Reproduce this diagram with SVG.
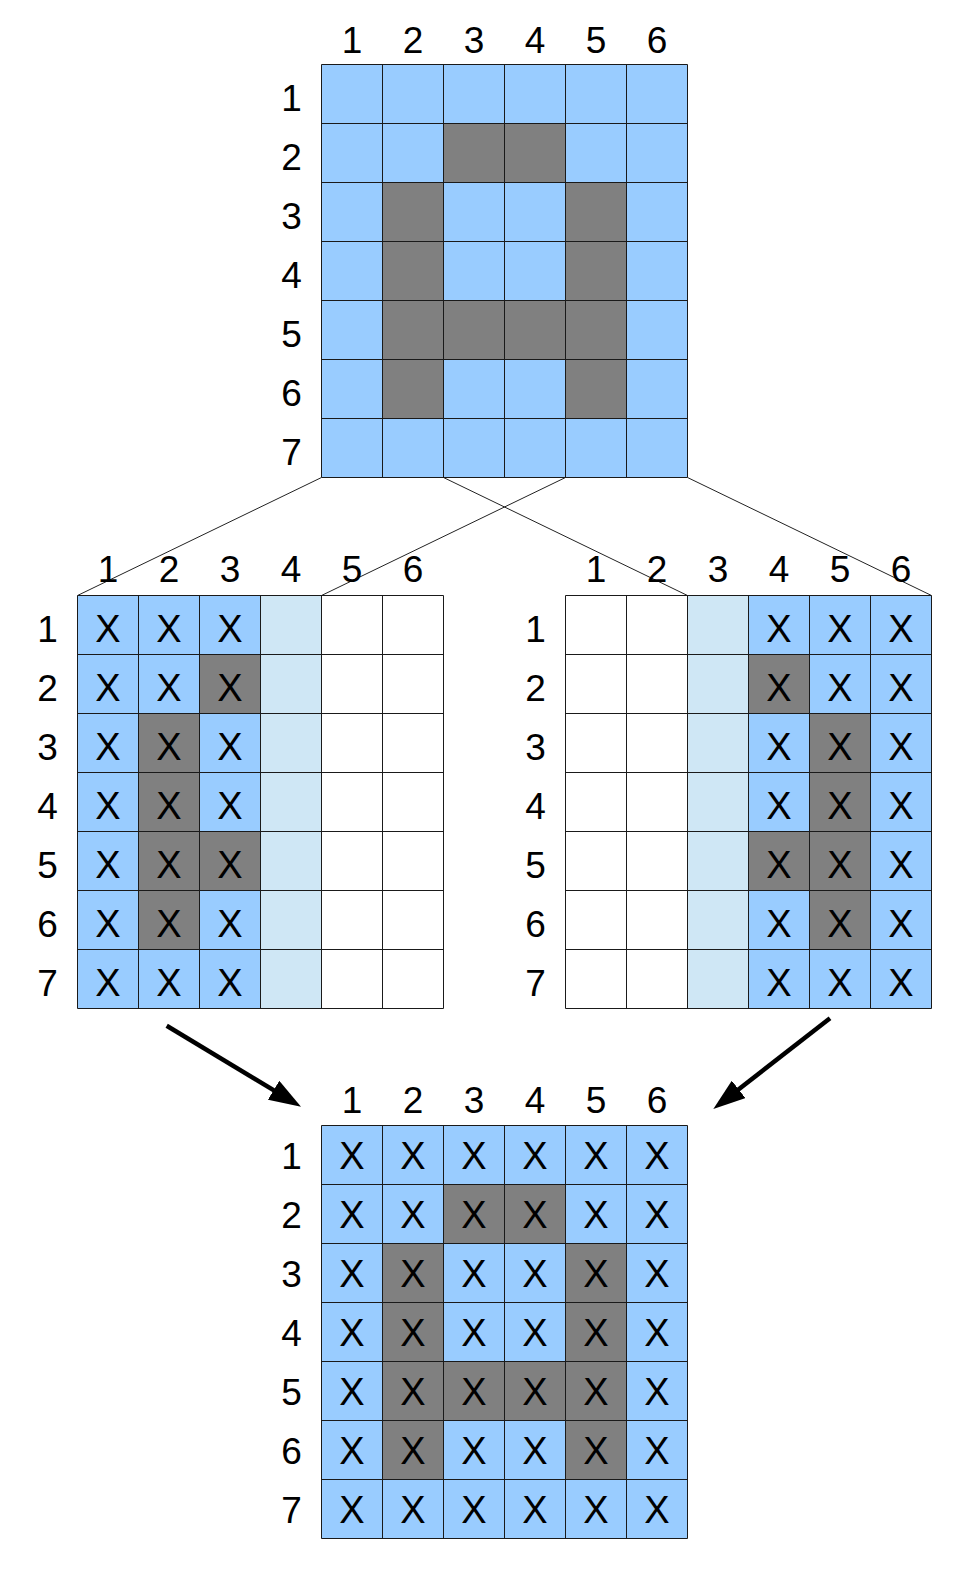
<svg xmlns="http://www.w3.org/2000/svg" width="969" height="1569" viewBox="0 0 969 1569">
<style>
text{font-family:"Liberation Sans",Arial,sans-serif;fill:#000;text-anchor:middle}
.lbl{font-size:37px}
.x{font-size:38px}
.b{fill:#99ccff}
.g{fill:#808080}
.l{fill:#cfe7f5}
.w{fill:#ffffff}
.grid{fill:none;stroke:#1a1a1a;stroke-width:1}
.conn{fill:none;stroke:#222;stroke-width:1}
.arr{fill:none;stroke:#000;stroke-width:4.5;marker-end:url(#head)}
</style>
<defs>
<marker id="head" markerUnits="userSpaceOnUse" viewBox="0 0 32 22" markerWidth="32" markerHeight="22" refX="12" refY="11" orient="auto">
<path d="M0,0 L32,11 L0,22 z" fill="#000"/>
</marker>
</defs>
<rect width="969" height="1569" fill="#ffffff"/>

<g id="connectors">
<line class="conn" x1="321.5" y1="477.5" x2="77.5" y2="595.5"/>
<line class="conn" x1="565.5" y1="477.5" x2="321.5" y2="595.5"/>
<line class="conn" x1="443.5" y1="477.5" x2="687.5" y2="595.5"/>
<line class="conn" x1="687.5" y1="477.5" x2="931.5" y2="595.5"/>
<line class="arr" x1="166.7" y1="1025.7" x2="283.9" y2="1096.4"/>
<line class="arr" x1="830" y1="1018.3" x2="729.1" y2="1096.7"/>
</g>

<g id="top-grid">
<rect class="b" x="321.5" y="64.5" width="366" height="413"/>
<rect class="g" x="443.5" y="123.5" width="122" height="59"/>
<rect class="g" x="382.5" y="182.5" width="61" height="236"/>
<rect class="g" x="565.5" y="182.5" width="61" height="236"/>
<rect class="g" x="443.5" y="300.5" width="122" height="59"/>
<path class="grid" d="M321.5,64.5V477.5M382.5,64.5V477.5M443.5,64.5V477.5M504.5,64.5V477.5M565.5,64.5V477.5M626.5,64.5V477.5M687.5,64.5V477.5M321.5,64.5H687.5M321.5,123.5H687.5M321.5,182.5H687.5M321.5,241.5H687.5M321.5,300.5H687.5M321.5,359.5H687.5M321.5,418.5H687.5M321.5,477.5H687.5"/>
<text class="lbl" x="352" y="53">1</text>
<text class="lbl" x="413" y="53">2</text>
<text class="lbl" x="474" y="53">3</text>
<text class="lbl" x="535" y="53">4</text>
<text class="lbl" x="596" y="53">5</text>
<text class="lbl" x="657" y="53">6</text>
<text class="lbl" x="291.5" y="110.5">1</text>
<text class="lbl" x="291.5" y="169.5">2</text>
<text class="lbl" x="291.5" y="228.5">3</text>
<text class="lbl" x="291.5" y="287.5">4</text>
<text class="lbl" x="291.5" y="346.5">5</text>
<text class="lbl" x="291.5" y="405.5">6</text>
<text class="lbl" x="291.5" y="464.5">7</text>
</g>

<g id="left-grid">
<rect class="w" x="77.5" y="595.5" width="366" height="413"/>
<rect class="b" x="77.5" y="595.5" width="183" height="413"/>
<rect class="l" x="260.5" y="595.5" width="61" height="413"/>
<rect class="g" x="199.5" y="654.5" width="61" height="59"/>
<rect class="g" x="138.5" y="713.5" width="61" height="236"/>
<rect class="g" x="199.5" y="831.5" width="61" height="59"/>
<path class="grid" d="M77.5,595.5V1008.5M138.5,595.5V1008.5M199.5,595.5V1008.5M260.5,595.5V1008.5M321.5,595.5V1008.5M382.5,595.5V1008.5M443.5,595.5V1008.5M77.5,595.5H443.5M77.5,654.5H443.5M77.5,713.5H443.5M77.5,772.5H443.5M77.5,831.5H443.5M77.5,890.5H443.5M77.5,949.5H443.5M77.5,1008.5H443.5"/>
<text class="lbl" x="108" y="582">1</text>
<text class="lbl" x="169" y="582">2</text>
<text class="lbl" x="230" y="582">3</text>
<text class="lbl" x="291" y="582">4</text>
<text class="lbl" x="352" y="582">5</text>
<text class="lbl" x="413" y="582">6</text>
<text class="lbl" x="47.5" y="641.5">1</text>
<text class="lbl" x="47.5" y="700.5">2</text>
<text class="lbl" x="47.5" y="759.5">3</text>
<text class="lbl" x="47.5" y="818.5">4</text>
<text class="lbl" x="47.5" y="877.5">5</text>
<text class="lbl" x="47.5" y="936.5">6</text>
<text class="lbl" x="47.5" y="995.5">7</text>
<text class="x" x="108" y="641.5">X</text><text class="x" x="169" y="641.5">X</text><text class="x" x="230" y="641.5">X</text>
<text class="x" x="108" y="700.5">X</text><text class="x" x="169" y="700.5">X</text><text class="x" x="230" y="700.5">X</text>
<text class="x" x="108" y="759.5">X</text><text class="x" x="169" y="759.5">X</text><text class="x" x="230" y="759.5">X</text>
<text class="x" x="108" y="818.5">X</text><text class="x" x="169" y="818.5">X</text><text class="x" x="230" y="818.5">X</text>
<text class="x" x="108" y="877.5">X</text><text class="x" x="169" y="877.5">X</text><text class="x" x="230" y="877.5">X</text>
<text class="x" x="108" y="936.5">X</text><text class="x" x="169" y="936.5">X</text><text class="x" x="230" y="936.5">X</text>
<text class="x" x="108" y="995.5">X</text><text class="x" x="169" y="995.5">X</text><text class="x" x="230" y="995.5">X</text>
</g>

<g id="right-grid">
<rect class="w" x="565.5" y="595.5" width="366" height="413"/>
<rect class="l" x="687.5" y="595.5" width="61" height="413"/>
<rect class="b" x="748.5" y="595.5" width="183" height="413"/>
<rect class="g" x="748.5" y="654.5" width="61" height="59"/>
<rect class="g" x="809.5" y="713.5" width="61" height="236"/>
<rect class="g" x="748.5" y="831.5" width="61" height="59"/>
<path class="grid" d="M565.5,595.5V1008.5M626.5,595.5V1008.5M687.5,595.5V1008.5M748.5,595.5V1008.5M809.5,595.5V1008.5M870.5,595.5V1008.5M931.5,595.5V1008.5M565.5,595.5H931.5M565.5,654.5H931.5M565.5,713.5H931.5M565.5,772.5H931.5M565.5,831.5H931.5M565.5,890.5H931.5M565.5,949.5H931.5M565.5,1008.5H931.5"/>
<text class="lbl" x="596" y="582">1</text>
<text class="lbl" x="657" y="582">2</text>
<text class="lbl" x="718" y="582">3</text>
<text class="lbl" x="779" y="582">4</text>
<text class="lbl" x="840" y="582">5</text>
<text class="lbl" x="901" y="582">6</text>
<text class="lbl" x="535.5" y="641.5">1</text>
<text class="lbl" x="535.5" y="700.5">2</text>
<text class="lbl" x="535.5" y="759.5">3</text>
<text class="lbl" x="535.5" y="818.5">4</text>
<text class="lbl" x="535.5" y="877.5">5</text>
<text class="lbl" x="535.5" y="936.5">6</text>
<text class="lbl" x="535.5" y="995.5">7</text>
<text class="x" x="779" y="641.5">X</text><text class="x" x="840" y="641.5">X</text><text class="x" x="901" y="641.5">X</text>
<text class="x" x="779" y="700.5">X</text><text class="x" x="840" y="700.5">X</text><text class="x" x="901" y="700.5">X</text>
<text class="x" x="779" y="759.5">X</text><text class="x" x="840" y="759.5">X</text><text class="x" x="901" y="759.5">X</text>
<text class="x" x="779" y="818.5">X</text><text class="x" x="840" y="818.5">X</text><text class="x" x="901" y="818.5">X</text>
<text class="x" x="779" y="877.5">X</text><text class="x" x="840" y="877.5">X</text><text class="x" x="901" y="877.5">X</text>
<text class="x" x="779" y="936.5">X</text><text class="x" x="840" y="936.5">X</text><text class="x" x="901" y="936.5">X</text>
<text class="x" x="779" y="995.5">X</text><text class="x" x="840" y="995.5">X</text><text class="x" x="901" y="995.5">X</text>
</g>

<g id="bottom-grid">
<rect class="b" x="321.5" y="1125.5" width="366" height="413"/>
<rect class="g" x="443.5" y="1184.5" width="122" height="59"/>
<rect class="g" x="382.5" y="1243.5" width="61" height="236"/>
<rect class="g" x="565.5" y="1243.5" width="61" height="236"/>
<rect class="g" x="443.5" y="1361.5" width="122" height="59"/>
<path class="grid" d="M321.5,1125.5V1538.5M382.5,1125.5V1538.5M443.5,1125.5V1538.5M504.5,1125.5V1538.5M565.5,1125.5V1538.5M626.5,1125.5V1538.5M687.5,1125.5V1538.5M321.5,1125.5H687.5M321.5,1184.5H687.5M321.5,1243.5H687.5M321.5,1302.5H687.5M321.5,1361.5H687.5M321.5,1420.5H687.5M321.5,1479.5H687.5M321.5,1538.5H687.5"/>
<text class="lbl" x="352" y="1113">1</text>
<text class="lbl" x="413" y="1113">2</text>
<text class="lbl" x="474" y="1113">3</text>
<text class="lbl" x="535" y="1113">4</text>
<text class="lbl" x="596" y="1113">5</text>
<text class="lbl" x="657" y="1113">6</text>
<text class="lbl" x="291.5" y="1169">1</text>
<text class="lbl" x="291.5" y="1228">2</text>
<text class="lbl" x="291.5" y="1287">3</text>
<text class="lbl" x="291.5" y="1346">4</text>
<text class="lbl" x="291.5" y="1405">5</text>
<text class="lbl" x="291.5" y="1464">6</text>
<text class="lbl" x="291.5" y="1523">7</text>
<text class="x" x="352" y="1169">X</text><text class="x" x="413" y="1169">X</text><text class="x" x="474" y="1169">X</text><text class="x" x="535" y="1169">X</text><text class="x" x="596" y="1169">X</text><text class="x" x="657" y="1169">X</text>
<text class="x" x="352" y="1228">X</text><text class="x" x="413" y="1228">X</text><text class="x" x="474" y="1228">X</text><text class="x" x="535" y="1228">X</text><text class="x" x="596" y="1228">X</text><text class="x" x="657" y="1228">X</text>
<text class="x" x="352" y="1287">X</text><text class="x" x="413" y="1287">X</text><text class="x" x="474" y="1287">X</text><text class="x" x="535" y="1287">X</text><text class="x" x="596" y="1287">X</text><text class="x" x="657" y="1287">X</text>
<text class="x" x="352" y="1346">X</text><text class="x" x="413" y="1346">X</text><text class="x" x="474" y="1346">X</text><text class="x" x="535" y="1346">X</text><text class="x" x="596" y="1346">X</text><text class="x" x="657" y="1346">X</text>
<text class="x" x="352" y="1405">X</text><text class="x" x="413" y="1405">X</text><text class="x" x="474" y="1405">X</text><text class="x" x="535" y="1405">X</text><text class="x" x="596" y="1405">X</text><text class="x" x="657" y="1405">X</text>
<text class="x" x="352" y="1464">X</text><text class="x" x="413" y="1464">X</text><text class="x" x="474" y="1464">X</text><text class="x" x="535" y="1464">X</text><text class="x" x="596" y="1464">X</text><text class="x" x="657" y="1464">X</text>
<text class="x" x="352" y="1523">X</text><text class="x" x="413" y="1523">X</text><text class="x" x="474" y="1523">X</text><text class="x" x="535" y="1523">X</text><text class="x" x="596" y="1523">X</text><text class="x" x="657" y="1523">X</text>
</g>
</svg>
